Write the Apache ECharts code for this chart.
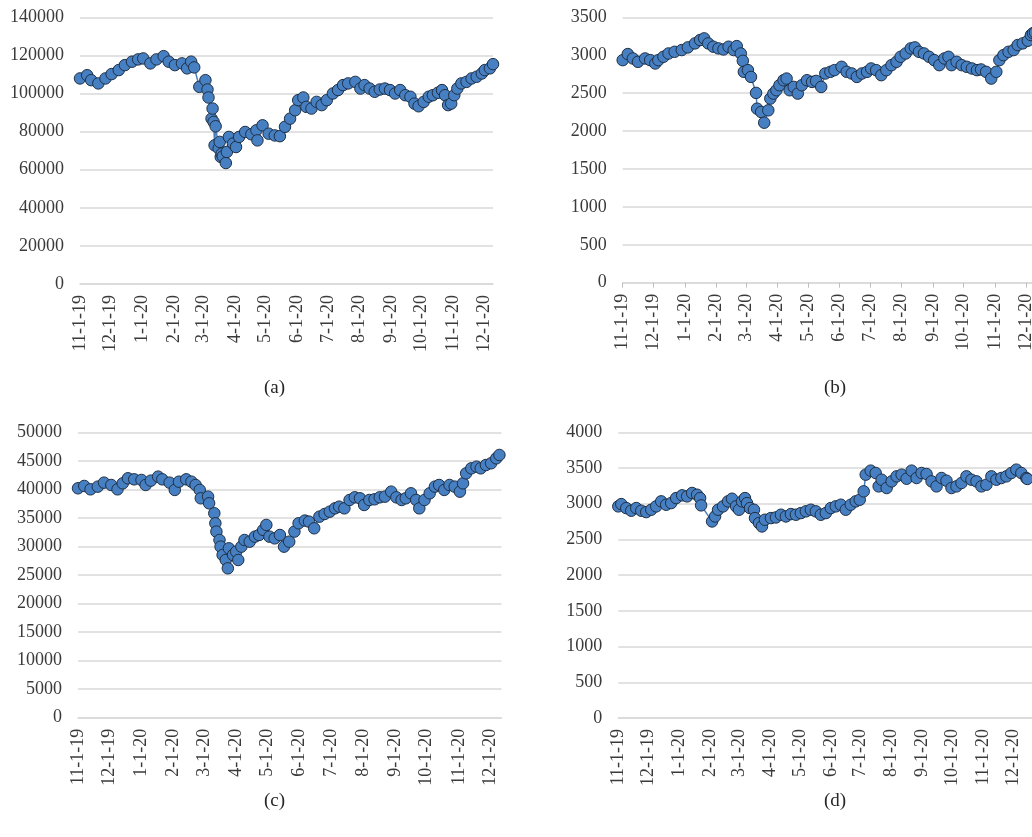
<!DOCTYPE html>
<html>
<head>
<meta charset="utf-8">
<script src="https://cdn.jsdelivr.net/npm/echarts@6/dist/echarts.min.js"></script>
<style>
  html, body { margin: 0; padding: 0; background: #fff; overflow: hidden; }
  #chart { width: 1040px; height: 837px; }
</style>
</head>
<body>
<div id="chart"></div>
<script>
// ---------- data ----------
const axisStart = '2019-11-01';
const axisEnds = ['2020-12-10', '2020-12-10', '2020-12-12', '2020-12-22'];
const panelCaptions = ['(a)', '(b)', '(c)', '(d)'];
const yMax = [140000, 3500, 50000, 4000];
const yStep = [20000, 500, 5000, 500];

const datesA = ['2019-11-01','2019-11-08','2019-11-12','2019-11-19','2019-11-26','2019-12-02','2019-12-09','2019-12-15','2019-12-22','2019-12-28',
'2020-01-02','2020-01-09','2020-01-15','2020-01-22','2020-01-27','2020-02-02','2020-02-09','2020-02-14','2020-02-18','2020-02-21',
'2020-02-26','2020-03-03','2020-03-05','2020-03-06','2020-03-09','2020-03-10','2020-03-11','2020-03-12','2020-03-13','2020-03-16',
'2020-03-17','2020-03-18','2020-03-19','2020-03-20','2020-03-23','2020-03-24','2020-03-26','2020-03-30','2020-04-02','2020-04-05',
'2020-04-11','2020-04-17','2020-04-22','2020-04-23','2020-04-28','2020-05-04','2020-05-10','2020-05-15','2020-05-20','2020-05-25',
'2020-05-30','2020-06-02','2020-06-07','2020-06-10','2020-06-15','2020-06-20','2020-06-25','2020-06-30','2020-07-06','2020-07-11',
'2020-07-16','2020-07-21','2020-07-28','2020-08-02','2020-08-06','2020-08-11','2020-08-16','2020-08-21','2020-08-26','2020-08-31',
'2020-09-05','2020-09-10','2020-09-15','2020-09-20','2020-09-24','2020-09-28','2020-10-03','2020-10-08','2020-10-12','2020-10-17',
'2020-10-21','2020-10-24','2020-10-27','2020-10-30','2020-11-02','2020-11-05','2020-11-09','2020-11-14','2020-11-19','2020-11-24',
'2020-11-29','2020-12-02','2020-12-07','2020-12-10'];
const valuesA = [107900,109600,107000,105300,107900,110200,112300,114900,116700,117900,
118400,115800,117900,119600,116700,114900,115800,113200,116700,113700,
103500,107000,102100,97900,86800,92100,85100,72800,82800,71200,
74600,66700,68400,67000,63500,69300,77200,73700,71900,77200,
79800,78600,80700,75400,83300,78900,78000,77600,82500,86800,
91200,96500,97900,93000,92100,95600,93900,96500,100000,101800,
104400,105300,106100,102600,104400,102600,100900,102100,102600,101800,
100000,101800,99100,98300,94700,93300,95600,98300,99100,100400,
101800,99100,93900,94700,99100,102600,105300,106100,107900,108800,
110500,112300,113200,115400];

const datesB = ['2019-11-01','2019-11-06','2019-11-11','2019-11-16','2019-11-23','2019-11-28','2019-12-03','2019-12-06','2019-12-11','2019-12-16',
'2019-12-22','2019-12-29','2020-01-04','2020-01-11','2020-01-16','2020-01-20','2020-01-24','2020-01-29','2020-02-03','2020-02-08',
'2020-02-13','2020-02-18','2020-02-21','2020-02-25','2020-02-27','2020-02-28','2020-03-03','2020-03-06','2020-03-11','2020-03-12',
'2020-03-16','2020-03-19','2020-03-23','2020-03-25','2020-03-28','2020-03-31','2020-04-03','2020-04-07','2020-04-10','2020-04-13',
'2020-04-17','2020-04-21','2020-04-25','2020-04-30','2020-05-05','2020-05-09','2020-05-14','2020-05-18','2020-05-23','2020-05-27',
'2020-06-03','2020-06-08','2020-06-13','2020-06-18','2020-06-23','2020-06-28','2020-07-02','2020-07-07','2020-07-12','2020-07-17',
'2020-07-22','2020-07-27','2020-07-31','2020-08-05','2020-08-10','2020-08-14','2020-08-18','2020-08-23','2020-08-28','2020-09-02',
'2020-09-07','2020-09-12','2020-09-16','2020-09-19','2020-09-24','2020-09-29','2020-10-04','2020-10-09','2020-10-14','2020-10-18',
'2020-10-23','2020-10-28','2020-11-02','2020-11-05','2020-11-09','2020-11-14','2020-11-19','2020-11-23','2020-11-28','2020-12-03',
'2020-12-06','2020-12-08','2020-12-10'];
const valuesB = [2935,3015,2957,2913,2957,2935,2891,2935,2979,3023,
3045,3068,3103,3156,3200,3222,3156,3112,3090,3076,
3112,3068,3120,3023,2926,2781,2803,2714,2503,2295,
2251,2110,2273,2428,2494,2538,2604,2670,2692,2538,
2582,2494,2604,2670,2648,2661,2582,2759,2781,2803,
2847,2781,2759,2714,2759,2781,2825,2803,2737,2803,
2869,2913,2979,3023,3090,3103,3045,3023,2979,2935,
2869,2957,2979,2869,2913,2869,2847,2825,2803,2812,
2781,2692,2781,2935,3001,3045,3068,3134,3156,3191,
3266,3290,3300];

const datesC = ['2019-11-01','2019-11-07','2019-11-13','2019-11-20','2019-11-26','2019-12-03','2019-12-09','2019-12-14','2019-12-19','2019-12-25',
'2020-01-01','2020-01-05','2020-01-10','2020-01-17','2020-01-21','2020-01-28','2020-02-02','2020-02-06','2020-02-13','2020-02-18',
'2020-02-22','2020-02-26','2020-02-27','2020-03-05','2020-03-06','2020-03-11','2020-03-12','2020-03-13','2020-03-16','2020-03-17',
'2020-03-19','2020-03-22','2020-03-24','2020-03-25','2020-03-29','2020-04-01','2020-04-03','2020-04-06','2020-04-09','2020-04-14',
'2020-04-19','2020-04-23','2020-04-27','2020-04-30','2020-05-03','2020-05-08','2020-05-13','2020-05-17','2020-05-22','2020-05-27',
'2020-05-31','2020-06-06','2020-06-10','2020-06-15','2020-06-20','2020-06-25','2020-06-30','2020-07-05','2020-07-09','2020-07-14',
'2020-07-19','2020-07-24','2020-07-29','2020-08-02','2020-08-07','2020-08-12','2020-08-17','2020-08-22','2020-08-28','2020-09-02',
'2020-09-07','2020-09-11','2020-09-16','2020-09-21','2020-09-24','2020-09-29','2020-10-04','2020-10-09','2020-10-13','2020-10-18',
'2020-10-23','2020-10-28','2020-11-02','2020-11-05','2020-11-08','2020-11-13','2020-11-18','2020-11-22','2020-11-27','2020-12-02',
'2020-12-07','2020-12-10'];
const valuesC = [40190,40600,40010,40480,41180,40770,40010,41060,41940,41760,
41650,40770,41530,42230,41760,41180,39900,41350,41760,41350,
40770,39900,38440,38730,37560,35810,34060,32600,31130,29970,
28510,27630,26170,29670,28510,29090,27630,29970,31130,30840,
31720,32010,32890,33770,31720,31420,32010,29970,30840,32600,
34060,34530,34350,33180,35220,35690,36100,36680,36970,36680,
38140,38610,38430,37270,38140,38260,38610,38730,39600,38610,
38140,38430,39310,38140,36680,38140,39310,40480,40770,39900,
40770,40480,39600,41060,42810,43690,43980,43690,44270,44570,
45440,46030];

const datesD = ['2019-11-01','2019-11-04','2019-11-09','2019-11-14','2019-11-19','2019-11-24','2019-11-29','2019-12-04','2019-12-09','2019-12-14',
'2019-12-19','2019-12-24','2019-12-29','2020-01-04','2020-01-09','2020-01-14','2020-01-19','2020-01-22','2020-01-23','2020-02-03',
'2020-02-06','2020-02-09','2020-02-14','2020-02-19','2020-02-23','2020-02-27','2020-03-01','2020-03-04','2020-03-07','2020-03-09',
'2020-03-12','2020-03-16','2020-03-17','2020-03-21','2020-03-24','2020-03-27','2020-04-02','2020-04-07','2020-04-12','2020-04-17',
'2020-04-22','2020-04-27','2020-05-02','2020-05-07','2020-05-12','2020-05-17','2020-05-22','2020-05-27','2020-06-01','2020-06-06',
'2020-06-11','2020-06-16','2020-06-21','2020-06-26','2020-06-30','2020-07-04','2020-07-06','2020-07-11','2020-07-16','2020-07-19',
'2020-07-22','2020-07-27','2020-08-01','2020-08-06','2020-08-11','2020-08-16','2020-08-21','2020-08-26','2020-08-31','2020-09-05',
'2020-09-10','2020-09-15','2020-09-20','2020-09-25','2020-09-30','2020-10-05','2020-10-10','2020-10-15','2020-10-20','2020-10-25',
'2020-10-30','2020-11-04','2020-11-09','2020-11-14','2020-11-19','2020-11-24','2020-11-29','2020-12-04','2020-12-09','2020-12-14',
'2020-12-15'];
const valuesD = [2963,2995,2939,2902,2939,2902,2883,2916,2963,3033,
2986,3009,3079,3117,3103,3150,3126,3079,2977,2752,
2822,2916,2963,3033,3070,2963,2916,3033,3079,3009,
2939,2916,2799,2729,2682,2776,2799,2808,2846,2822,
2855,2846,2869,2893,2916,2893,2846,2869,2939,2963,
2986,2916,2986,3033,3056,3173,3407,3463,3430,3243,
3336,3220,3313,3383,3407,3350,3463,3360,3430,3416,
3313,3243,3360,3322,3220,3243,3290,3383,3336,3313,
3243,3266,3383,3336,3360,3383,3430,3477,3430,3360,
3347];

// ---------- helpers ----------
function calendarDays(start, end) {
  const out = [];
  let t = Date.parse(start + 'T00:00:00Z');
  const e = Date.parse(end + 'T00:00:00Z');
  while (t <= e) {
    out.push(new Date(t).toISOString().slice(0, 10));
    t += 86400000;
  }
  return out;
}
function isMonthStart(idx, val) { return val.slice(8, 10) === '01'; }
function fmtDate(val) {
  const p = val.split('-');
  return (+p[1]) + '-' + (+p[2]) + '-' + p[0].slice(2);
}

const allDates = [datesA, datesB, datesC, datesD];
const allValues = [valuesA, valuesB, valuesC, valuesD];

// layout of the four plot areas (px)
const grids = [
  { left: 80,    top: 17.3,  width: 413,   height: 266.7 },
  { left: 622.7, top: 17.3,  width: 412.3, height: 265.4 },
  { left: 78,    top: 432.3, width: 423.5, height: 285.4 },
  { left: 618.3, top: 432.3, width: 416,   height: 285.7 }
];
const captionPos = [[276, 390], [836, 390], [276, 803], [836, 803]];

const FONT = '"Liberation Serif", "Times New Roman", serif';
const TXT = '#3a3a3a';
const GRIDC = '#d9d9d9';

const option = {
  animation: false,
  backgroundColor: '#ffffff',
  grid: grids.map(g => Object.assign({ containLabel: false }, g)),
  xAxis: grids.map((g, i) => ({
    type: 'category',
    gridIndex: i,
    data: calendarDays(axisStart, axisEnds[i]),
    boundaryGap: false,
    axisLine: { show: true, lineStyle: { color: GRIDC, width: 1.5 } },
    axisTick: { show: i === 1, interval: isMonthStart, length: 5, lineStyle: { color: '#bfbfbf', width: 1 } },
    splitLine: { show: false },
    axisLabel: {
      interval: isMonthStart,
      rotate: 90,
      formatter: fmtDate,
      fontFamily: FONT,
      fontSize: 18,
      color: TXT,
      margin: 11
    }
  })),
  yAxis: grids.map((g, i) => ({
    type: 'value',
    gridIndex: i,
    min: 0,
    max: yMax[i],
    interval: yStep[i],
    axisLine: { show: false },
    axisTick: { show: false },
    splitLine: { lineStyle: { color: GRIDC, width: 1.5 } },
    axisLabel: { fontFamily: FONT, fontSize: 18, color: TXT, margin: 16, formatter: v => String(v) }
  })),
  series: allValues.map((vals, i) => ({
    type: 'line',
    xAxisIndex: i,
    yAxisIndex: i,
    data: vals.map((v, k) => [allDates[i][k], v]),
    showSymbol: true,
    showAllSymbol: true,
    symbol: 'circle',
    symbolSize: 11.5,
    lineStyle: { color: '#4a7ebb', width: 1.5 },
    itemStyle: { color: '#4680c2', borderColor: '#1f2f45', borderWidth: 1 },
    emphasis: { disabled: true }
  })),
  graphic: panelCaptions.map((c, i) => ({
    type: 'text',
    left: captionPos[i][0] - 12,
    top: captionPos[i][1] - 11,
    style: { text: c, font: '19px ' + FONT, fill: '#262626' }
  }))
};

echarts.init(document.getElementById('chart'), null, { renderer: 'canvas' }).setOption(option);
</script>
</body>
</html>
